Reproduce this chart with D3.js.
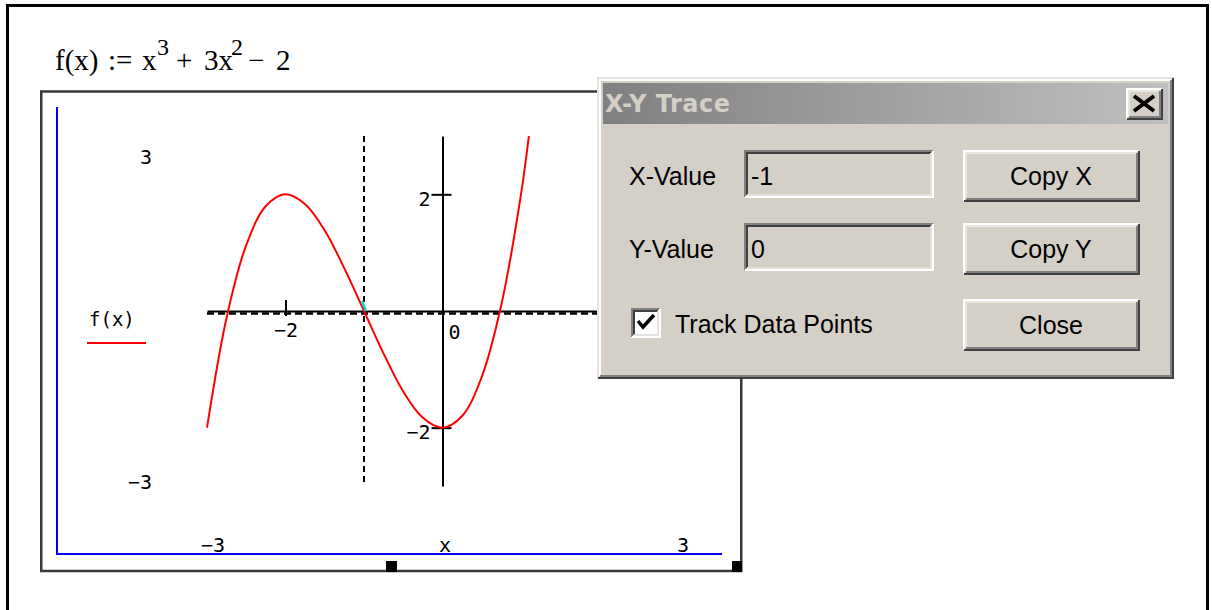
<!DOCTYPE html>
<html>
<head>
<meta charset="utf-8">
<script src="https://cdn.jsdelivr.net/npm/d3@7"></script>
<style>
body { margin: 0; background: #fff; }
svg { display: block; }
</style>
</head>
<body>
<div id="chart"></div>
<script>
// points of f(x)
const curveX = [-3, -2.75, -2.5, -2.25, -2, -1.75, -1.5, -1.25, -1, -0.75, -0.5, -0.25, 0, 0.25, 0.5, 0.75, 1, 1.1];
const curveY = [-2, -0.11, 1.13, 1.8, 2, 1.83, 1.38, 0.73, 0, -0.73, -1.38, -1.83, -2, -1.8, -1.13, 0.11, 2, 3];
const xRange = [-3, 3];
const yRange = [-3, 3];
const xTicks = [-2];
const xTickLabels = ["−2"];
const yTicks = [-2, 2];
const yTickLabels = ["−2", "2"];
const rangeLabels = ["−3", "3"];
const traceX = [-1];
const traceY = [0];
const seriesName = "f(x)";
const xName = "x";
const dialogLabels = ["X-Value", "Y-Value"];
const dialogButtons = ["Copy X", "Copy Y", "Close"];

var svg = d3.select("#chart")
  .append("svg")
    .attr("width", 1212)
    .attr("height", 610);

var defs = svg.append("defs");
var grad = defs.append("linearGradient").attr("id", "titlebar");
grad.append("stop").attr("offset", "0%").attr("stop-color", "#808080");
grad.append("stop").attr("offset", "100%").attr("stop-color", "#c0c0c0");

// outer frame
svg.append("path")
  .attr("d", "M7.5,612V5.5H1207.5V612")
  .attr("fill", "none")
  .attr("stroke", "#000")
  .attr("stroke-width", 3);

// definition line f(x) := x^3 + 3x^2 - 2
var def = svg.append("text")
  .attr("font-family", "Liberation Serif, Times New Roman, serif")
  .attr("font-size", 29)
  .attr("fill", "#000");
[["f(x)", 55, 70, 29], [":=", 108, 70, 29], ["x", 142, 70, 29], ["3", 157, 55, 24],
 ["+", 176, 70, 29], ["3x", 204, 70, 29], ["2", 231, 55, 24], ["−", 248, 70, 29], ["2", 276, 70, 29]]
  .forEach(function(p) {
    def.append("tspan").attr("x", p[1]).attr("y", p[2]).attr("font-size", p[3]).text(p[0]);
  });

// plot region box
svg.append("rect")
  .attr("x", 41.25).attr("y", 91.5)
  .attr("width", 700).attr("height", 479.5)
  .attr("fill", "none")
  .attr("stroke", "#383838")
  .attr("stroke-width", 2.5);
svg.append("rect").attr("x", 386).attr("y", 561).attr("width", 11).attr("height", 11).attr("fill", "#000");
svg.append("rect").attr("x", 732).attr("y", 561).attr("width", 10).attr("height", 11).attr("fill", "#000");

// blue selection axes
svg.append("path")
  .attr("d", "M57,107V554H722")
  .attr("fill", "none")
  .attr("stroke", "#0000ff")
  .attr("stroke-width", 2);

var x = d3.scaleLinear().domain(xRange).range([207, 678]);
var y = d3.scaleLinear().domain(yRange).range([486, 136]);

var mono = "DejaVu Sans Mono, monospace";
var fs = 20;

// range labels
svg.append("text").attr("x", 152).attr("y", 164).attr("text-anchor", "end")
  .attr("font-family", mono).attr("font-size", fs).text(rangeLabels[1]);
svg.append("text").attr("x", 152).attr("y", 489).attr("text-anchor", "end")
  .attr("font-family", mono).attr("font-size", fs).text(rangeLabels[0]);
svg.append("text").attr("x", 201).attr("y", 552)
  .attr("font-family", mono).attr("font-size", fs).text(rangeLabels[0]);
svg.append("text").attr("x", 689).attr("y", 552).attr("text-anchor", "end")
  .attr("font-family", mono).attr("font-size", fs).text(rangeLabels[1]);
svg.append("text").attr("x", 445).attr("y", 552).attr("text-anchor", "middle")
  .attr("font-family", mono).attr("font-size", fs).text(xName);

// legend
svg.append("text").attr("x", 89).attr("y", 326)
  .attr("font-family", mono).attr("font-size", 19).text(seriesName);
svg.append("line").attr("x1", 87).attr("x2", 146).attr("y1", 343).attr("y2", 343)
  .attr("stroke", "#ff0000").attr("stroke-width", 2);

// X axis crossing at y = 0
var xAxis = svg.append("g")
  .attr("transform", "translate(0," + y(0) + ")")
  .call(d3.axisBottom(x).tickValues(xTicks).tickSizeOuter(0)
    .tickFormat(function(d, i) { return xTickLabels[i]; }));
xAxis.select(".domain").attr("stroke-width", 2);
xAxis.selectAll(".tick line").attr("y1", -11).attr("y2", 5).attr("stroke-width", 2);
xAxis.selectAll(".tick text")
  .attr("y", 26).attr("dy", null)
  .attr("font-family", mono).attr("font-size", fs);

// Y axis crossing at x = 0
var yAxis = svg.append("g")
  .attr("transform", "translate(" + x(0) + ",0)")
  .call(d3.axisLeft(y).tickValues(yTicks).tickSizeOuter(0)
    .tickFormat(function(d, i) { return yTickLabels[i]; }));
yAxis.select(".domain").attr("stroke-width", 2);
yAxis.selectAll(".tick line").attr("x1", -11).attr("x2", 9).attr("stroke-width", 2);
yAxis.selectAll(".tick text")
  .attr("x", -12).attr("dy", "0.55em")
  .attr("font-family", mono).attr("font-size", fs);

svg.append("text").attr("x", x(0) + 6).attr("y", y(0) + 28)
  .attr("font-family", mono).attr("font-size", fs).text("0");

// trace cross-hair
svg.append("line")
  .attr("x1", x(traceX[0])).attr("x2", x(traceX[0]))
  .attr("y1", y(yRange[1])).attr("y2", y(yRange[0]))
  .attr("stroke", "#000").attr("stroke-width", 2).attr("stroke-dasharray", "6,4");
svg.append("line")
  .attr("x1", x(xRange[0])).attr("x2", x(xRange[1]))
  .attr("y1", y(traceY[0]) + 2.5).attr("y2", y(traceY[0]) + 2.5)
  .attr("stroke", "#000").attr("stroke-width", 2.5).attr("stroke-dasharray", "7,4");

// curve
var pts = curveX.map(function(v, i) { return [v, curveY[i]]; });
svg.append("path")
  .datum(pts)
  .attr("fill", "none")
  .attr("stroke", "#ff0000")
  .attr("stroke-width", 2)
  .attr("d", d3.line()
    .x(function(d) { return x(d[0]); })
    .y(function(d) { return y(d[1]); })
    .curve(d3.curveCatmullRom));

// trace point
svg.append("line")
  .attr("x1", x(traceX[0]) - 2).attr("y1", y(traceY[0]) - 10)
  .attr("x2", x(traceX[0]) + 2).attr("y2", y(traceY[0]))
  .attr("stroke", "#00e0e0").attr("stroke-width", 2.5);

// ---- X-Y Trace dialog ----
function bevel(g, x0, y0, w, h, tl1, br1, tl2, br2) {
  var x1 = x0 + w, y1 = y0 + h;
  g.append("path").attr("d", "M" + (x0 + 1) + "," + (y1 - 1) + "V" + (y0 + 1) + "H" + (x1 - 1))
    .attr("fill", "none").attr("stroke", tl1).attr("stroke-width", 2);
  g.append("path").attr("d", "M" + (x0 + 1) + "," + (y1 - 1) + "H" + (x1 - 1) + "V" + (y0 + 1))
    .attr("fill", "none").attr("stroke", br1).attr("stroke-width", 2);
  g.append("path").attr("d", "M" + (x0 + 3) + "," + (y1 - 3) + "V" + (y0 + 3) + "H" + (x1 - 3))
    .attr("fill", "none").attr("stroke", tl2).attr("stroke-width", 2);
  g.append("path").attr("d", "M" + (x0 + 3) + "," + (y1 - 3) + "H" + (x1 - 3) + "V" + (y0 + 3))
    .attr("fill", "none").attr("stroke", br2).attr("stroke-width", 2);
}

var dlg = svg.append("g");
dlg.append("rect").attr("x", 597).attr("y", 77).attr("width", 577).attr("height", 302).attr("fill", "#d4d0c8");
bevel(dlg, 597, 77, 577, 302, "#e4e2dc", "#404040", "#ffffff", "#808080");

dlg.append("rect").attr("x", 603).attr("y", 83).attr("width", 565).attr("height", 41).attr("fill", "url(#titlebar)");
dlg.append("text").attr("x", 605).attr("y", 112)
  .attr("font-family", "DejaVu Sans, Verdana, sans-serif").attr("font-weight", "bold")
  .attr("font-size", 24).attr("letter-spacing", 0.5).attr("fill", "#d4d0c8").text("X-Y Trace");

// close box
dlg.append("rect").attr("x", 1126).attr("y", 88).attr("width", 37).attr("height", 32).attr("fill", "#d4d0c8");
bevel(dlg, 1126, 88, 37, 32, "#ffffff", "#404040", "#e8e6e0", "#808080");
dlg.append("path").attr("d", "M1134,96L1154,111M1154,96L1134,111")
  .attr("stroke", "#000").attr("stroke-width", 4);

var sans = "Liberation Sans, Arial, sans-serif";
var fieldY = [150, 223];
var fieldVals = [String(traceX[0]), String(traceY[0])];
dialogLabels.forEach(function(lbl, i) {
  dlg.append("text").attr("x", 629).attr("y", fieldY[i] + 35)
    .attr("font-family", sans).attr("font-size", 25).attr("fill", "#000").text(lbl);
  bevel(dlg, 744, fieldY[i], 190, 48, "#808080", "#ffffff", "#404040", "#e4e2dc");
  dlg.append("text").attr("x", 751).attr("y", fieldY[i] + 35)
    .attr("font-family", sans).attr("font-size", 25).attr("fill", "#000").text(fieldVals[i]);
});

var btnY = [150, 223, 299];
dialogButtons.forEach(function(lbl, i) {
  bevel(dlg, 963, btnY[i], 177, 52, "#ffffff", "#404040", "#e8e6e0", "#808080");
  dlg.append("text").attr("x", 1051).attr("y", btnY[i] + 35).attr("text-anchor", "middle")
    .attr("font-family", sans).attr("font-size", 25).attr("fill", "#000").text(lbl);
});

// checkbox
dlg.append("rect").attr("x", 631).attr("y", 308).attr("width", 30).attr("height", 30).attr("fill", "#ffffff");
bevel(dlg, 631, 308, 30, 30, "#808080", "#ffffff", "#404040", "#e4e2dc");
dlg.append("path").attr("d", "M638,321L643,327L654,315")
  .attr("fill", "none").attr("stroke", "#000").attr("stroke-width", 3.5);
dlg.append("text").attr("x", 675).attr("y", 333)
  .attr("font-family", sans).attr("font-size", 25).attr("fill", "#000").text("Track Data Points");
</script>
</body>
</html>
